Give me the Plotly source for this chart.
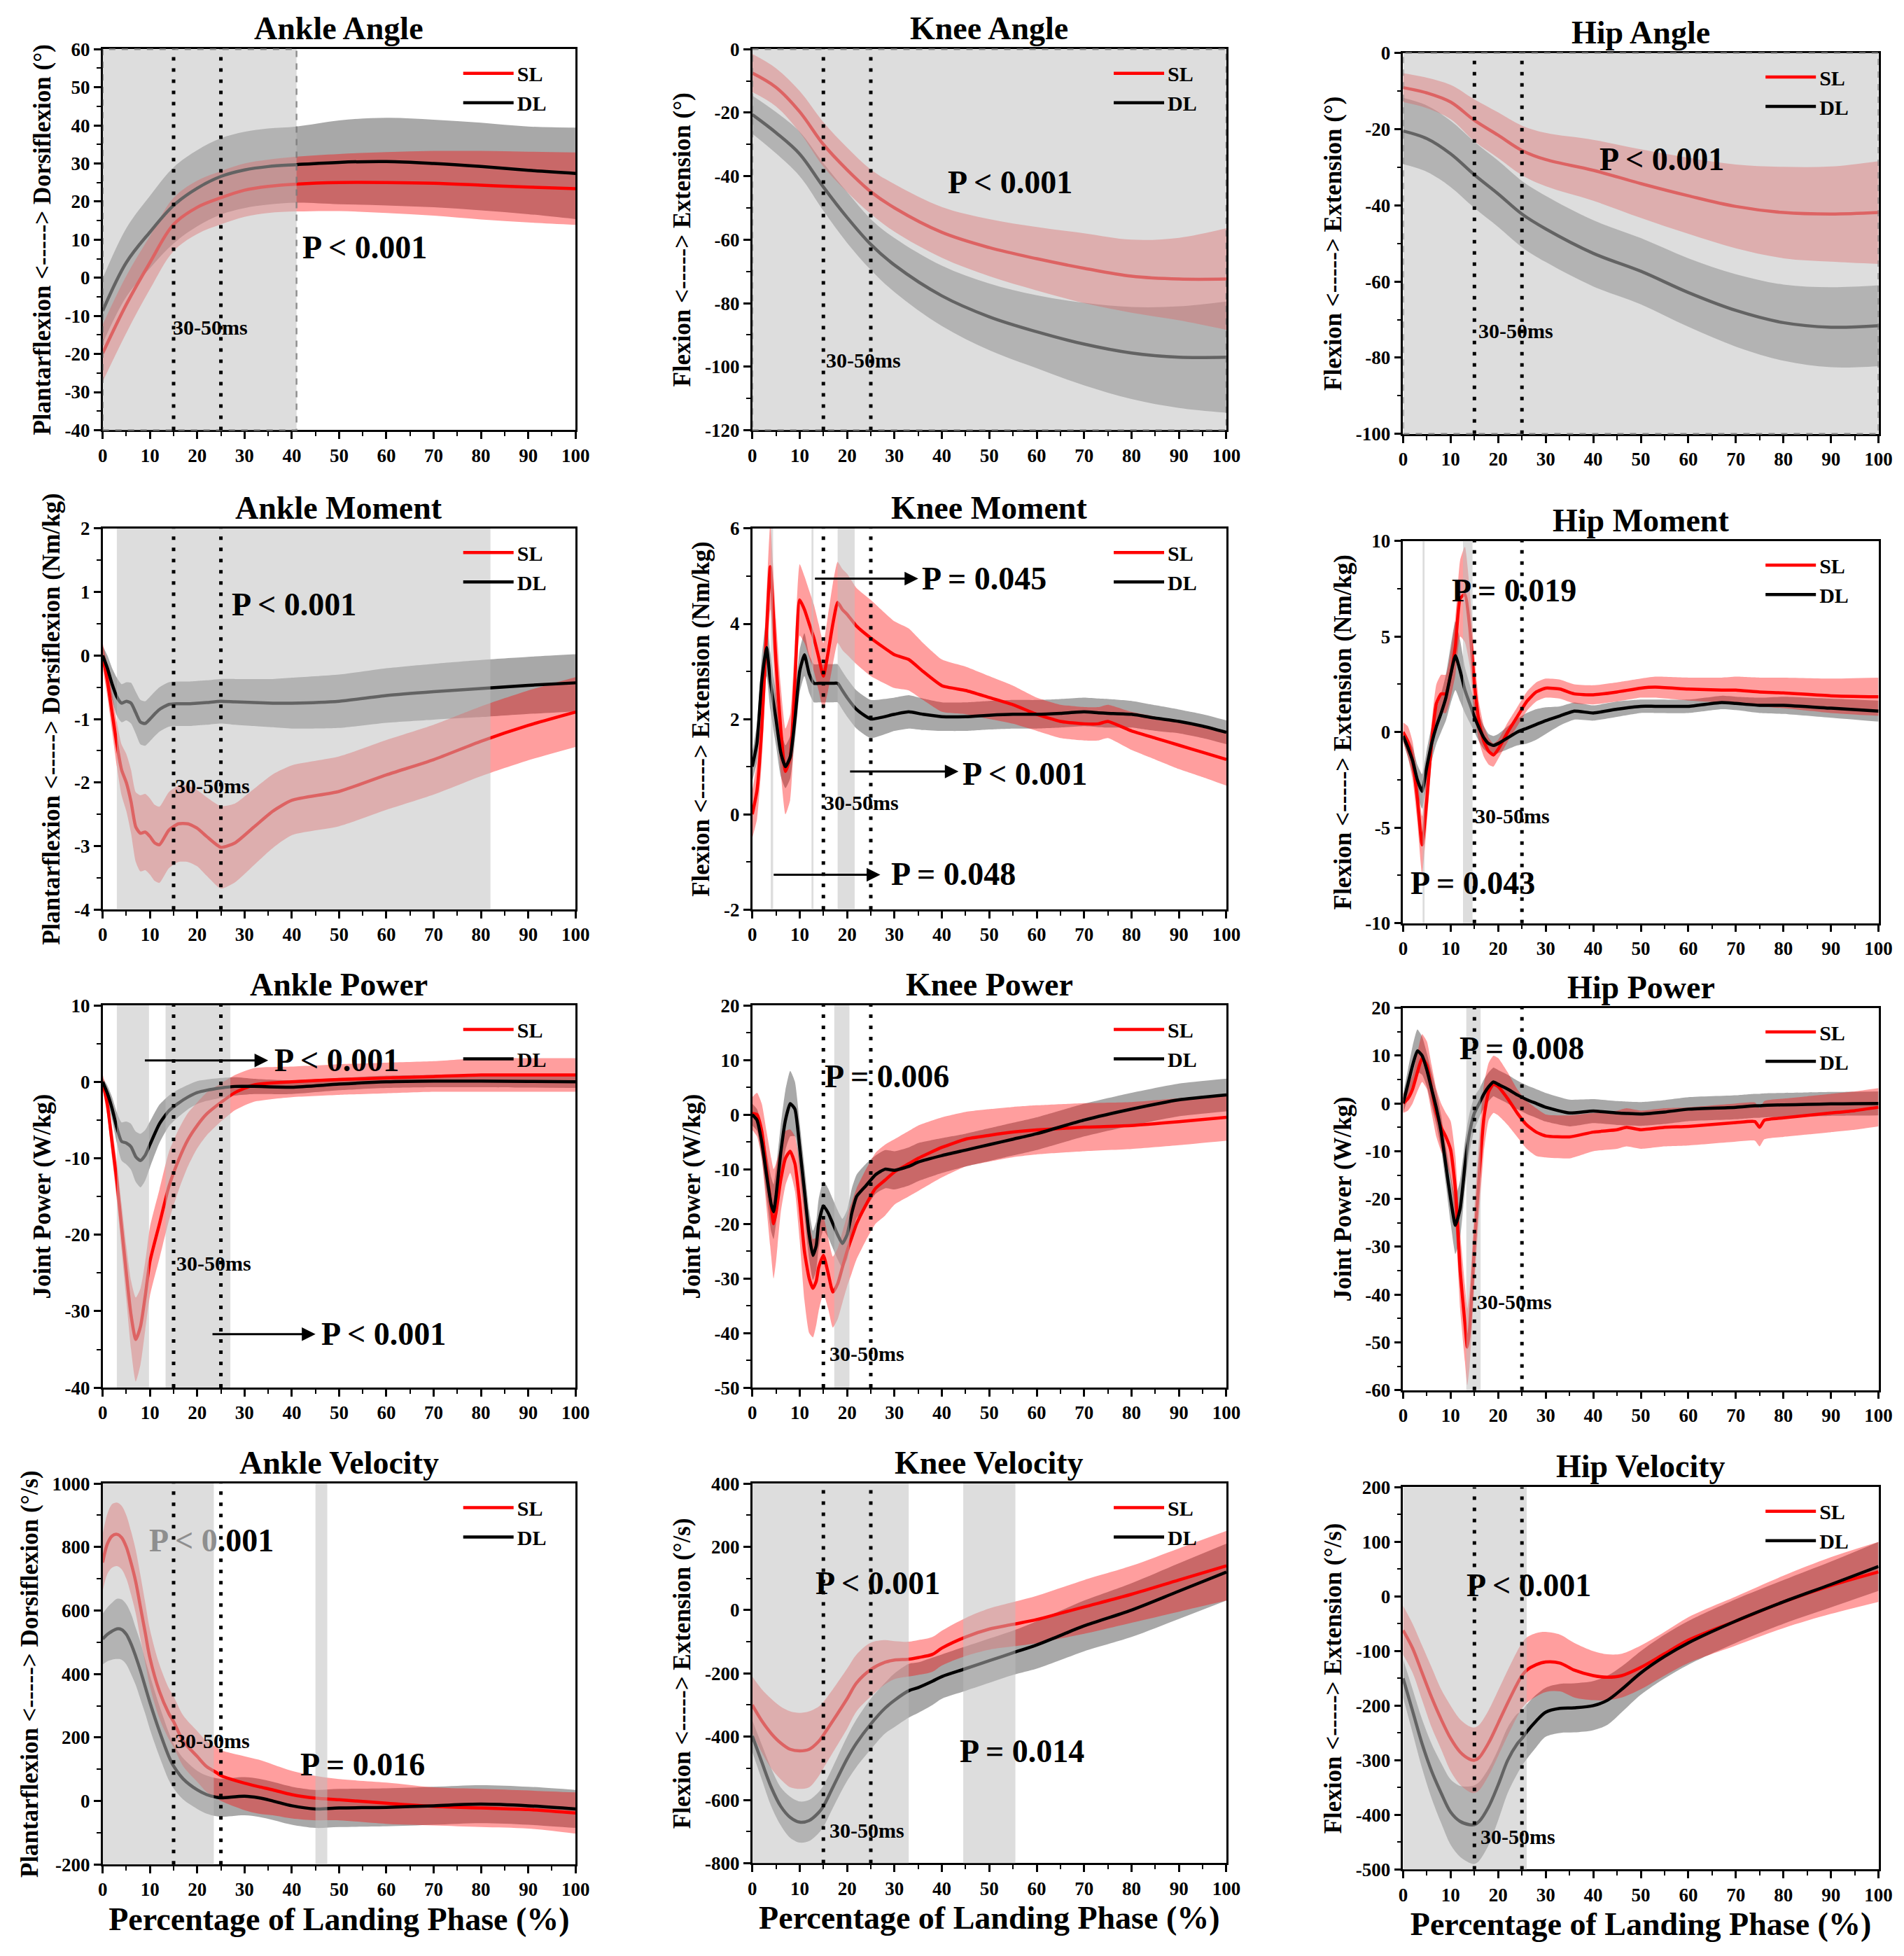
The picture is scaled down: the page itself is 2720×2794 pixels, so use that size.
import plotly.graph_objects as go

# ----------------------------------------------------------------- data
# Ankle angle (deg)
ANKLE_ANGLE_X = [0, 5, 10, 15, 20, 25, 30, 35, 41, 50, 60, 70, 80, 90, 100]
ANKLE_ANGLE_SL = [-19.8, -7, 4, 14, 18.5, 21, 23, 24, 24.6, 25, 25, 24.8, 24.3, 23.8, 23.4]
ANKLE_ANGLE_SL_SD = [7.5, 7.5, 7, 7, 7, 7, 7, 7, 7.2, 7.5, 8, 8.5, 9, 9.3, 9.5]
ANKLE_ANGLE_DL = [-8.7, 4, 12, 19, 23.5, 26.6, 28.3, 29.2, 29.7, 30.3, 30.5, 30, 29.2, 28.2, 27.4]
ANKLE_ANGLE_DL_SD = [8.5, 9, 9.5, 10, 10, 10, 10, 10, 10, 11, 11.5, 11.5, 11.5, 11.5, 12]

# Knee angle (deg)
KNEE_ANGLE_X = [0, 5, 10, 15, 20, 25, 30, 40, 50, 60, 70, 80, 90, 100]
KNEE_ANGLE_SL = [-7.5, -12, -19.7, -30, -38, -44.9, -50, -57.7, -62.5, -66, -69, -71.5, -72.4, -72.4]
KNEE_ANGLE_SL_SD = [6, 6, 6.5, 7, 7, 7, 7.5, 8, 9, 10, 11, 11.5, 13, 16]
KNEE_ANGLE_DL = [-20.6, -26.3, -33, -43.4, -53, -61.5, -68, -77.7, -84.3, -89, -92.9, -95.7, -97, -97]
KNEE_ANGLE_DL_SD = [6, 6.5, 7, 7.5, 8, 8, 8.5, 9.5, 10.5, 11.5, 13, 14.5, 16, 17.5]

# Hip angle (deg)
HIP_ANGLE_X = [0, 5, 10, 15, 20, 25, 30, 40, 50, 60, 70, 80, 90, 100]
HIP_ANGLE_SL = [-9.1, -10.5, -12.9, -17.7, -21.6, -25.6, -28, -30.8, -34.3, -37.5, -40.3, -41.9, -42.3, -41.9]
HIP_ANGLE_SL_SD = [3.8, 4, 4.5, 5.5, 6, 6.5, 7, 8, 9, 10, 11, 12, 12.5, 13.5]
HIP_ANGLE_DL = [-20.5, -22.5, -26.5, -32, -37, -42.3, -46.2, -52.6, -57.3, -62.9, -67.6, -70.8, -72, -71.6]
HIP_ANGLE_DL_SD = [8.7, 8.7, 8.7, 8.7, 8.7, 8.7, 8.7, 8.7, 8.7, 9, 9.5, 10, 10.5, 10.6]

# Ankle moment (Nm/kg)
ANKLE_MOMENT_X = [0, 1, 2, 3, 4, 5, 6, 7, 8, 9, 10, 11, 12, 14, 16, 18, 20, 22, 25, 28, 32, 36, 40, 50, 60, 70, 80, 90, 100]
ANKLE_MOMENT_SL = [0, -0.4, -0.9, -1.4, -1.8, -2.0, -2.3, -2.7, -2.8, -2.78, -2.85, -2.95, -2.98, -2.75, -2.65,
                   -2.65, -2.72, -2.85, -3.02, -2.95, -2.7, -2.45, -2.28, -2.14, -1.88, -1.64, -1.35, -1.1, -0.89]
ANKLE_MOMENT_SL_SD = [0.2, 0.25, 0.3, 0.35, 0.4, 0.45, 0.5, 0.55, 0.6, 0.6, 0.6, 0.6, 0.6, 0.6, 0.6,
                      0.6, 0.6, 0.62, 0.65, 0.62, 0.6, 0.58, 0.55, 0.55, 0.55, 0.55, 0.55, 0.55, 0.55]
ANKLE_MOMENT_DL = [0, -0.2, -0.45, -0.65, -0.75, -0.72, -0.75, -0.9, -1.05, -1.07, -1.0, -0.92, -0.85, -0.77, -0.76,
                   -0.76, -0.75, -0.74, -0.72, -0.73, -0.74, -0.75, -0.75, -0.72, -0.63, -0.57, -0.52, -0.47, -0.43]
ANKLE_MOMENT_DL_SD = [0.15, 0.2, 0.25, 0.3, 0.3, 0.3, 0.32, 0.33, 0.35, 0.35, 0.35, 0.35, 0.35, 0.35, 0.35,
                      0.35, 0.35, 0.35, 0.35, 0.36, 0.37, 0.38, 0.4, 0.42, 0.43, 0.44, 0.45, 0.45, 0.45]

# Knee moment (Nm/kg)
KNEE_MOMENT_X = [0, 1, 2, 3, 3.8, 5, 6, 7, 8, 9, 10, 11, 12, 13, 14, 15, 16, 17, 18, 19,
                 20, 22, 25, 30, 33, 36, 40, 45, 50, 55, 60, 65, 70, 73, 75, 80, 85, 90, 95, 100]
KNEE_MOMENT_SL = [0, 0.5, 1.8, 3.8, 5.2, 3.2, 1.8, 0.9, 1.2, 2.8, 4.5, 4.3, 4.0, 3.7, 3.3, 2.9, 3.4, 4.0, 4.45, 4.3,
                  4.2, 3.95, 3.7, 3.35, 3.25, 3.0, 2.7, 2.6, 2.45, 2.3, 2.1, 1.95, 1.9, 1.9, 1.95, 1.75, 1.6, 1.45, 1.3, 1.15]
KNEE_MOMENT_SL_SD = [0.5, 0.6, 0.7, 0.8, 0.9, 0.9, 0.9, 0.9, 0.9, 0.8, 0.75, 0.7, 0.7, 0.7, 0.7, 0.7, 0.8, 0.85, 0.85, 0.85,
                     0.85, 0.8, 0.8, 0.7, 0.65, 0.6, 0.55, 0.5, 0.45, 0.4, 0.35, 0.35, 0.35, 0.35, 0.35, 0.4, 0.45, 0.5, 0.52, 0.55]
KNEE_MOMENT_DL = [1.0, 1.5, 2.8, 3.5, 2.8, 2.0, 1.3, 1.0, 1.2, 2.0, 3.0, 3.35, 2.95, 2.75, 2.75, 2.75, 2.75, 2.75, 2.75, 2.6,
                  2.45, 2.2, 2.0, 2.1, 2.15, 2.1, 2.05, 2.05, 2.08, 2.1, 2.1, 2.12, 2.15, 2.13, 2.12, 2.1, 2.02, 1.95, 1.85, 1.72]
KNEE_MOMENT_DL_SD = [0.3, 0.4, 0.5, 0.6, 0.6, 0.55, 0.5, 0.45, 0.45, 0.45, 0.45, 0.45, 0.4, 0.4, 0.4, 0.4, 0.4, 0.4, 0.4, 0.4,
                     0.4, 0.4, 0.4, 0.35, 0.35, 0.33, 0.3, 0.3, 0.3, 0.3, 0.3, 0.3, 0.3, 0.3, 0.3, 0.28, 0.27, 0.25, 0.25, 0.25]

# Hip moment (Nm/kg)
HIP_MOMENT_X = [0, 1, 2, 3, 4, 5, 6, 7, 8, 9, 10, 11, 12, 13, 14, 15, 16, 17, 18, 19,
                20, 22, 24, 26, 28, 30, 33, 36, 40, 45, 50, 53, 60, 67, 70, 75, 80, 90, 100]
HIP_MOMENT_SL = [0, -0.5, -1.5, -3.5, -5.9, -3.5, -0.5, 1.5, 2.0, 2.0, 3.0, 4.5, 7.0, 7.2, 5.5, 2.5, 0.5, -0.5, -1.0, -1.2,
                 -0.9, 0.0, 0.8, 1.6, 2.1, 2.3, 2.25, 2.0, 1.95, 2.1, 2.3, 2.35, 2.25, 2.2, 2.2, 2.1, 2.05, 1.9, 1.85]
HIP_MOMENT_SL_SD = [0.5, 0.8, 1.0, 1.2, 1.5, 1.3, 1.0, 1.0, 1.0, 1.0, 1.2, 1.5, 2.0, 2.5, 2.0, 1.5, 1.0, 0.8, 0.7, 0.6,
                    0.5, 0.5, 0.5, 0.5, 0.5, 0.5, 0.5, 0.5, 0.5, 0.5, 0.5, 0.55, 0.6, 0.65, 0.7, 0.75, 0.8, 0.9, 1.0]
HIP_MOMENT_DL = [-0.2, -0.8, -1.5, -2.5, -3.1, -1.8, -0.6, 0.3, 1.0, 1.8, 3.0, 4.0, 3.2, 2.2, 1.5, 0.8, 0.2, -0.3, -0.6, -0.7,
                 -0.6, -0.3, 0.0, 0.2, 0.4, 0.6, 0.85, 1.1, 1.0, 1.2, 1.35, 1.35, 1.35, 1.55, 1.5, 1.4, 1.4, 1.25, 1.1]
HIP_MOMENT_DL_SD = [0.3, 0.5, 0.7, 0.8, 0.9, 0.9, 0.9, 0.9, 1.0, 1.2, 1.5, 1.8, 1.6, 1.2, 1.0, 0.8, 0.7, 0.6, 0.5, 0.5,
                    0.5, 0.6, 0.7, 0.8, 0.8, 0.7, 0.5, 0.45, 0.4, 0.4, 0.35, 0.35, 0.35, 0.35, 0.35, 0.4, 0.45, 0.5, 0.55]

# Ankle power (W/kg)
ANKLE_POWER_X = [0, 1, 2, 3, 4, 5, 6, 7, 8, 9, 10, 12, 14, 16, 18, 20, 22, 25, 28, 32, 40, 50, 60, 70, 80, 90, 100]
ANKLE_POWER_SL = [0, -3, -8, -13, -19, -25, -30.5, -33.7, -32, -28, -23.5, -18.6, -13.7, -10.3, -7.6, -5.7, -4.2,
                  -2.7, -1.4, -0.4, 0, 0.3, 0.5, 0.7, 0.9, 0.9, 0.9]
ANKLE_POWER_SL_SD = [1, 1.5, 2, 2.5, 3, 3.5, 4.5, 5.5, 5, 4.5, 4.5, 4.5, 4.5, 4, 3.5, 3, 2.8, 2.5, 2.3, 2.2,
                     2, 2, 2, 2, 2.2, 2.2, 2.2]
ANKLE_POWER_DL = [0, -1.5, -3.5, -6, -7.8, -8.0, -8.5, -9.8, -10.3, -9.6, -8.2, -5.5, -3.8, -2.8, -2.0, -1.4, -1.1,
                  -0.8, -0.6, -0.6, -0.7, -0.3, 0, 0.1, 0.1, 0.05, 0]
ANKLE_POWER_DL_SD = [0.5, 1.0, 1.5, 2.0, 2.5, 2.8, 3.0, 3.3, 3.5, 3.3, 3.0, 2.5, 2.0, 1.8, 1.6, 1.5, 1.4, 1.3, 1.2,
                     1.0, 0.9, 0.8, 0.8, 0.8, 0.8, 0.8, 0.8]

# Knee power (W/kg)
KNEE_POWER_X = [0, 1, 2, 3, 4, 4.5, 5, 6, 7, 8, 9, 10, 11, 12, 12.8, 13.5, 14, 15, 16, 17,
                18, 19, 20, 21, 22, 24, 26, 28, 30, 33, 35, 40, 45, 50, 55, 60, 70, 80, 90, 100]
KNEE_POWER_SL = [0.2, 0, -3, -10, -17, -20, -18, -12, -8, -6.7, -9, -16, -25, -30, -31.8, -30.5, -28, -25.8, -29, -32.5,
                 -31, -28, -25, -22.5, -20, -16.5, -13.5, -12, -10.5, -9, -8, -6, -4.5, -3.8, -3.2, -2.8, -2.3, -2.0, -1.3, -0.5]
KNEE_POWER_SL_SD = [3, 4, 5, 7, 9, 10, 9, 6, 5, 4, 5, 7, 9, 10, 9, 8, 8, 7, 6.5, 6.5,
                    6.5, 6.5, 6.5, 6.5, 6.5, 6.5, 6.5, 6.5, 6, 6, 6, 5.5, 5, 4.8, 4.6, 4.5, 4.4, 4.3, 4.3, 4.3]
KNEE_POWER_DL = [0, -1, -5, -11, -16.5, -17.8, -15, -7, -1, 2, 1, -6, -14, -22, -25.8, -24, -20, -16.7, -18, -20,
                 -22, -23.6, -22, -18, -15, -13, -11, -10, -10.2, -9.5, -8.7, -7.5, -6.5, -5.5, -4.5, -3.5, -1, 1, 2.7, 3.6]
KNEE_POWER_DL_SD = [2, 2, 3, 4, 5, 5, 5, 5, 5.5, 6, 5, 4.5, 4.5, 4.5, 4.5, 4.5, 4.5, 4.5, 4.5, 4.5,
                    4.5, 4.5, 4.5, 4.5, 4, 4, 3.5, 3.5, 3.5, 3.5, 3.5, 3.2, 3, 3, 3, 3, 3, 3, 3, 3]

# Hip power (W/kg)
HIP_POWER_X = [0, 1, 2, 3, 4, 5, 6, 7, 8, 9, 10, 11, 12, 13, 13.5, 14, 15, 16, 17, 18,
               19, 20, 22, 24, 26, 28, 30, 35, 40, 45, 47, 50, 55, 60, 70, 74, 75, 76, 80, 85, 90, 95, 100]
HIP_POWER_SL = [0, 1, 3, 6.5, 9.5, 8, 3, -2, -5, -7, -9.7, -18, -35, -46, -51, -47, -30, -15, -3, 2.5,
                4, 3.5, 1, -2, -4.5, -6, -6.8, -7, -6, -5.5, -5, -5.5, -5, -4.8, -4, -3.8, -5, -3.5, -3, -2.5, -2, -1.5, -0.8]
HIP_POWER_SL_SD = [2, 2.5, 3, 4, 5, 5, 5, 5, 5, 5, 6, 7, 8, 8, 8, 8, 8, 8, 7, 6,
                   6, 6, 5.5, 5, 5, 5, 4.5, 4.5, 4, 4, 4, 4, 4, 4, 4, 4, 4, 4, 4, 4, 4, 4, 4]
HIP_POWER_DL = [0, 4, 8, 11, 10, 7, 3, -1, -6, -13, -20, -25.5, -22, -13, -9, -6, -2, 0, 2, 3.5,
                4.5, 4, 3, 1.8, 0.8, 0, -0.8, -2, -1.6, -2, -2.1, -2.2, -1.8, -1.2, -0.8, -0.5, -0.5, -0.4, -0.3, -0.2, -0.1, -0.05, 0]
HIP_POWER_DL_SD = [2, 3, 4, 4.5, 4, 3.5, 3.5, 3.5, 3.5, 4, 5, 6, 6, 5, 4.5, 4, 3.5, 3, 3, 3,
                   3, 3, 3, 3, 3, 3, 3, 2.8, 2.5, 2.5, 2.5, 2.5, 2.5, 2.5, 2.5, 2.5, 2.5, 2.5, 2.5, 2.5, 2.5, 2.5, 2.5]

# Ankle velocity (deg/s)
ANKLE_VEL_X = [0, 1, 2, 3, 4, 5, 6, 7, 8, 9, 10, 12, 14, 15, 17, 20, 22, 24, 25, 30, 33, 36, 40, 45, 50, 60, 70, 80, 90, 100]
ANKLE_VEL_SL = [751, 810, 835, 840, 830, 800, 750, 690, 610, 530, 450, 345, 275, 250, 190, 140, 108, 90, 80, 56,
                45, 35, 20, 9, 4, -7, -17, -22, -27, -38]
ANKLE_VEL_SL_SD = [90, 95, 100, 100, 100, 100, 100, 100, 100, 95, 90, 85, 80, 80, 80, 80, 80, 80, 80, 85,
                   85, 80, 75, 70, 65, 65, 60, 60, 60, 65]
ANKLE_VEL_DL = [510, 525, 535, 542, 540, 525, 495, 455, 410, 360, 310, 220, 140, 110, 70, 35, 20, 12, 10, 15,
                10, 0, -15, -25, -22, -20, -15, -10, -15, -25]
ANKLE_VEL_DL_SD = [80, 85, 90, 95, 95, 95, 95, 90, 90, 85, 85, 80, 75, 70, 65, 60, 60, 60, 60, 60,
                   60, 60, 60, 60, 60, 60, 60, 60, 60, 60]

# Knee velocity (deg/s)
KNEE_VEL_X = [0, 2, 4, 6, 8, 10, 12, 14, 15, 17, 20, 22, 25, 28, 30, 33, 35, 38, 40, 45, 50, 55, 60, 65, 70, 80, 90, 100]
KNEE_VEL_SL = [-300, -350, -390, -420, -440, -445, -440, -415, -395, -350, -280, -230, -188, -165, -158, -155, -150,
               -140, -120, -85, -60, -45, -30, -10, 10, 50, 95, 140]
KNEE_VEL_SL_SD = [90, 100, 110, 115, 120, 120, 120, 110, 105, 100, 95, 90, 85, 70, 60, 55, 55, 55, 55, 60,
                  65, 70, 75, 80, 85, 90, 100, 110]
KNEE_VEL_DL = [-398, -480, -560, -620, -655, -670, -665, -640, -620, -560, -470, -420, -360, -310, -285, -255, -245,
               -225, -210, -185, -160, -135, -110, -80, -50, 0, 60, 120]
KNEE_VEL_DL_SD = [50, 55, 60, 60, 65, 65, 65, 65, 65, 65, 70, 75, 80, 80, 85, 85, 80, 75, 70, 70,
                  70, 70, 75, 78, 80, 85, 88, 90]

# Hip velocity (deg/s)
HIP_VEL_X = [0, 2, 4, 6, 8, 10, 12, 14, 15, 16, 18, 20, 22, 24, 25, 26, 28, 30, 33, 36, 40, 43, 46, 50, 55, 60, 70, 80, 90, 100]
HIP_VEL_SL = [-62, -95, -140, -185, -225, -260, -285, -298, -300, -295, -268, -232, -195, -160, -145, -135, -125,
              -120, -122, -135, -145, -148, -145, -130, -105, -80, -45, -10, 20, 45]
HIP_VEL_SL_SD = [45, 45, 50, 55, 55, 60, 60, 60, 60, 60, 60, 60, 60, 60, 60, 60, 58, 55, 52, 50,
                 45, 42, 40, 40, 40, 42, 45, 48, 52, 55]
HIP_VEL_DL = [-150, -210, -270, -320, -360, -395, -412, -418, -418, -412, -385, -345, -300, -270, -260, -248, -228,
              -212, -205, -204, -200, -190, -170, -140, -110, -85, -45, -10, 22, 55]
HIP_VEL_DL_SD = [35, 40, 45, 50, 55, 60, 65, 70, 72, 72, 70, 65, 60, 55, 50, 50, 48, 45, 45, 45,
                 45, 45, 42, 40, 40, 40, 40, 40, 42, 45]

# significant regions (% of landing phase) and 30-50 ms window
SIG_ANKLE_ANGLE = [(0, 41)]
SIG_KNEE_ANGLE = [(0, 100)]
SIG_HIP_ANGLE = [(0, 100)]
SIG_ANKLE_MOMENT = [(3, 82)]
SIG_KNEE_MOMENT = [(3.9, 4.4), (12.5, 12.9), (18, 21.6)]
SIG_HIP_MOMENT = [(4.1, 4.5), (12.6, 14.6)]
SIG_ANKLE_POWER = [(3, 9.8), (13.3, 27)]
SIG_KNEE_POWER = [(17.3, 20.5)]
SIG_HIP_POWER = [(13.3, 16.3)]
SIG_ANKLE_VEL = [(0, 23.5), (45, 47.5)]
SIG_KNEE_VEL = [(0, 33), (44.5, 55.5)]
SIG_HIP_VEL = [(0, 26)]
WINDOW_30_50MS = [15, 25]

ARROW = "&lt;-----&gt;"
PANELS = [
    dict(title="Ankle Angle", ytitle=f"Plantarflexion {ARROW} Dorsiflexion (°)", yr=[-40, 60], dt=10,
         x=ANKLE_ANGLE_X, sl=ANKLE_ANGLE_SL, slsd=ANKLE_ANGLE_SL_SD, dl=ANKLE_ANGLE_DL, dlsd=ANKLE_ANGLE_DL_SD,
         sig=SIG_ANKLE_ANGLE, dashed=True, smooth=1.0),
    dict(title="Knee Angle", ytitle=f"Flexion {ARROW} Extension (°)", yr=[-120, 0], dt=20,
         x=KNEE_ANGLE_X, sl=KNEE_ANGLE_SL, slsd=KNEE_ANGLE_SL_SD, dl=KNEE_ANGLE_DL, dlsd=KNEE_ANGLE_DL_SD,
         sig=SIG_KNEE_ANGLE, dashed=True, smooth=1.0),
    dict(title="Hip Angle", ytitle=f"Flexion {ARROW} Extension (°)", yr=[-100, 0], dt=20,
         x=HIP_ANGLE_X, sl=HIP_ANGLE_SL, slsd=HIP_ANGLE_SL_SD, dl=HIP_ANGLE_DL, dlsd=HIP_ANGLE_DL_SD,
         sig=SIG_HIP_ANGLE, dashed=True, smooth=1.0),
    dict(title="Ankle Moment", ytitle=f"Plantarflexion {ARROW} Dorsiflexion (Nm/kg)", yr=[-4, 2], dt=1,
         x=ANKLE_MOMENT_X, sl=ANKLE_MOMENT_SL, slsd=ANKLE_MOMENT_SL_SD, dl=ANKLE_MOMENT_DL, dlsd=ANKLE_MOMENT_DL_SD,
         sig=SIG_ANKLE_MOMENT, dashed=False, smooth=0.6),
    dict(title="Knee Moment", ytitle=f"Flexion {ARROW} Extension (Nm/kg)", yr=[-2, 6], dt=2,
         x=KNEE_MOMENT_X, sl=KNEE_MOMENT_SL, slsd=KNEE_MOMENT_SL_SD, dl=KNEE_MOMENT_DL, dlsd=KNEE_MOMENT_DL_SD,
         sig=SIG_KNEE_MOMENT, dashed=False, smooth=0.5),
    dict(title="Hip Moment", ytitle=f"Flexion {ARROW} Extension (Nm/kg)", yr=[-10, 10], dt=5,
         x=HIP_MOMENT_X, sl=HIP_MOMENT_SL, slsd=HIP_MOMENT_SL_SD, dl=HIP_MOMENT_DL, dlsd=HIP_MOMENT_DL_SD,
         sig=SIG_HIP_MOMENT, dashed=False, smooth=0.5),
    dict(title="Ankle Power", ytitle="Joint Power (W/kg)", yr=[-40, 10], dt=10,
         x=ANKLE_POWER_X, sl=ANKLE_POWER_SL, slsd=ANKLE_POWER_SL_SD, dl=ANKLE_POWER_DL, dlsd=ANKLE_POWER_DL_SD,
         sig=SIG_ANKLE_POWER, dashed=False, smooth=0.6),
    dict(title="Knee Power", ytitle="Joint Power (W/kg)", yr=[-50, 20], dt=10,
         x=KNEE_POWER_X, sl=KNEE_POWER_SL, slsd=KNEE_POWER_SL_SD, dl=KNEE_POWER_DL, dlsd=KNEE_POWER_DL_SD,
         sig=SIG_KNEE_POWER, dashed=False, smooth=0.5),
    dict(title="Hip Power", ytitle="Joint Power (W/kg)", yr=[-60, 20], dt=10,
         x=HIP_POWER_X, sl=HIP_POWER_SL, slsd=HIP_POWER_SL_SD, dl=HIP_POWER_DL, dlsd=HIP_POWER_DL_SD,
         sig=SIG_HIP_POWER, dashed=False, smooth=0.5),
    dict(title="Ankle Velocity", ytitle=f"Plantarflexion {ARROW} Dorsiflexion (°/s)", yr=[-200, 1000], dt=200,
         x=ANKLE_VEL_X, sl=ANKLE_VEL_SL, slsd=ANKLE_VEL_SL_SD, dl=ANKLE_VEL_DL, dlsd=ANKLE_VEL_DL_SD,
         sig=SIG_ANKLE_VEL, dashed=False, smooth=0.9),
    dict(title="Knee Velocity", ytitle=f"Flexion {ARROW} Extension (°/s)", yr=[-800, 400], dt=200,
         x=KNEE_VEL_X, sl=KNEE_VEL_SL, slsd=KNEE_VEL_SL_SD, dl=KNEE_VEL_DL, dlsd=KNEE_VEL_DL_SD,
         sig=SIG_KNEE_VEL, dashed=False, smooth=0.9),
    dict(title="Hip Velocity", ytitle=f"Flexion {ARROW} Extension (°/s)", yr=[-500, 200], dt=100,
         x=HIP_VEL_X, sl=HIP_VEL_SL, slsd=HIP_VEL_SL_SD, dl=HIP_VEL_DL, dlsd=HIP_VEL_DL_SD,
         sig=SIG_HIP_VEL, dashed=False, smooth=0.9),
]

# text labels per panel: (text, x, y, size)
P_BIG = 46
P_SMALL = 30
LABELS = [
    [("P &lt; 0.001", 42, 8, P_BIG), ("30-50ms", 14.5, -13, P_SMALL)],
    [("P &lt; 0.001", 41, -42, P_BIG), ("30-50ms", 15.3, -98, P_SMALL)],
    [("P &lt; 0.001", 41, -28, P_BIG), ("30-50ms", 15.5, -73, P_SMALL)],
    [("P &lt; 0.001", 27, 0.8, P_BIG), ("30-50ms", 15, -2.05, P_SMALL)],
    [("P = 0.045", 35.5, 4.95, P_BIG), ("P &lt; 0.001", 44, 0.85, P_BIG), ("P = 0.048", 29, -1.25, P_BIG),
     ("30-50ms", 14.8, 0.25, P_SMALL)],
    [("P = 0.019", 10, 7.4, P_BIG), ("P = 0.043", 1.2, -7.9, P_BIG), ("30-50ms", 14.8, -4.4, P_SMALL)],
    [("P &lt; 0.001", 36, 2.8, P_BIG), ("P &lt; 0.001", 46, -33, P_BIG), ("30-50ms", 15.3, -23.7, P_SMALL)],
    [("P = 0.006", 15, 7, P_BIG), ("30-50ms", 16, -43.8, P_SMALL)],
    [("P = 0.008", 11.5, 11.5, P_BIG), ("30-50ms", 15.3, -41.5, P_SMALL)],
    [("<span style='color:#8e8e8e'>P &lt; 0</span>.001", 9.5, 820, P_BIG), ("P = 0.016", 41.5, 115, P_BIG),
     ("30-50ms", 15, 190, P_SMALL)],
    [("P &lt; 0.001", 13, 85, P_BIG), ("P = 0.014", 43.5, -445, P_BIG), ("30-50ms", 16, -695, P_SMALL)],
    [("P &lt; 0.001", 13, 20, P_BIG), ("30-50ms", 16, -440, P_SMALL)],
]
# arrows per panel: (x_tail, x_head, y)
ARROWS = {4: [(13, 35, 4.95), (20.4, 43.5, 0.9), (4.3, 27, -1.27)],
          6: [(8.7, 35, 2.8), (23, 45, -33)]}

# ----------------------------------------------------------------- layout geometry
W, H = 2720, 2794
RW, RH = 1530.0, 1571.0  # reference measured at this scale
COLS = [(78, 458), (600, 981), (1123, 1505)]
ROWS = [[(35, 341), (35, 341), (38, 344)],
        [(420, 726), (420, 726), (430, 737)],
        [(803, 1110), (803, 1110), (805, 1112)],
        [(1187, 1493), (1187, 1492), (1190, 1497)]]
FONT = "Liberation Serif"
SL_COLOR, DL_COLOR = "#ff0000", "#000000"
SL_FILL, DL_FILL = "rgba(255,0,0,0.38)", "rgba(0,0,0,0.34)"
SHADE = "rgba(190,190,190,0.52)"

fig = go.Figure()
layout = dict(width=W, height=H, margin=dict(l=0, r=0, t=0, b=0), template="none",
              paper_bgcolor="white", plot_bgcolor="white", showlegend=True,
              font=dict(family=FONT, color="black"))
shapes, annotations = [], []


def fmt(v):
    return f"{v:g}"


for i, p in enumerate(PANELS, start=1):
    r, c = divmod(i - 1, 3)
    cx0, cx1 = COLS[c]
    ry0, ry1 = ROWS[r][c]
    dx = [cx0 / RW, cx1 / RW]
    dy = [1 - ry1 / RH, 1 - ry0 / RH]
    xa = "x" if i == 1 else f"x{i}"
    ya = "y" if i == 1 else f"y{i}"
    lg = "legend" if i == 1 else f"legend{i}"
    n = len(p["x"])
    assert all(len(p[k]) == n for k in ("sl", "slsd", "dl", "dlsd")), p["title"]

    # SD bands
    for m, sd, fc in ((p["dl"], p["dlsd"], DL_FILL), (p["sl"], p["slsd"], SL_FILL)):
        lo = [a - b for a, b in zip(m, sd)]
        hi = [a + b for a, b in zip(m, sd)]
        fig.add_trace(go.Scatter(x=p["x"], y=lo, mode="lines", xaxis=xa, yaxis=ya, showlegend=False,
                                 legend=lg, hoverinfo="skip",
                                 line=dict(width=0, shape="spline", smoothing=p["smooth"])))
        fig.add_trace(go.Scatter(x=p["x"], y=hi, mode="lines", xaxis=xa, yaxis=ya, showlegend=False,
                                 legend=lg, hoverinfo="skip", fill="tonexty", fillcolor=fc,
                                 line=dict(width=0, shape="spline", smoothing=p["smooth"])))
    # mean lines
    for name, m, col in (("SL", p["sl"], SL_COLOR), ("DL", p["dl"], DL_COLOR)):
        fig.add_trace(go.Scatter(x=p["x"], y=m, mode="lines", name=name, xaxis=xa, yaxis=ya, legend=lg,
                                 line=dict(color=col, width=4.5, shape="spline", smoothing=p["smooth"])))

    # significance shading (drawn above the data, as in the reference)
    for (s0, s1) in p["sig"]:
        shapes.append(dict(type="rect", xref=xa, yref=f"{ya} domain", x0=s0, x1=s1, y0=0, y1=1,
                           fillcolor=SHADE, layer="above",
                           line=dict(width=2.5 if p["dashed"] else 0, color="rgba(120,120,120,0.8)", dash="dash")))
    for wx in WINDOW_30_50MS:
        shapes.append(dict(type="line", xref=xa, yref=f"{ya} domain", x0=wx, x1=wx, y0=0, y1=1, layer="above",
                           line=dict(color="black", width=5, dash="5px,11px")))

    # axes
    y0r, y1r = p["yr"]
    yt = []
    v = y0r
    while v <= y1r + 1e-9:
        yt.append(v)
        v += p["dt"]
    ax_common = dict(showline=True, linecolor="black", linewidth=2.5, mirror=True, ticks="outside",
                     ticklen=10, tickwidth=2.5, tickcolor="black", showgrid=False, zeroline=False,
                     tickfont=dict(family=FONT, size=27, color="black", weight="bold"))
    xkey = "xaxis" if i == 1 else f"xaxis{i}"
    ykey = "yaxis" if i == 1 else f"yaxis{i}"
    xaxis = dict(domain=dx, anchor=ya, range=[0, 100], tickvals=list(range(0, 101, 10)),
                 ticktext=[str(t) for t in range(0, 101, 10)],
                 minor=dict(tickvals=list(range(5, 100, 10)), ticks="outside", ticklen=6, tickwidth=2,
                            tickcolor="black"), **ax_common)
    if r == 3:
        xaxis["title"] = dict(text="Percentage of Landing Phase (%)", standoff=12,
                              font=dict(family=FONT, size=46, color="black", weight="bold"))
    yaxis = dict(domain=dy, anchor=xa, range=[y0r, y1r], tickvals=yt, ticktext=[fmt(t) for t in yt],
                 minor=dict(tickvals=[t + p["dt"] / 2 for t in yt[:-1]], ticks="outside", ticklen=6,
                            tickwidth=2, tickcolor="black"),
                 title=dict(text=p["ytitle"], standoff=10,
                            font=dict(family=FONT, size=35, color="black", weight="bold")),
                 **ax_common)
    layout[xkey] = xaxis
    layout[ykey] = yaxis

    # legend
    layout[lg] = dict(x=dx[0] + 0.755 * (dx[1] - dx[0]), y=dy[1] - 0.003, xanchor="left", yanchor="top",
                      bgcolor="rgba(0,0,0,0)", itemwidth=72, tracegroupgap=0, traceorder="normal",
                      font=dict(family=FONT, size=30, color="black", weight="bold"))

    # subplot title
    annotations.append(dict(text=p["title"], xref="paper", yref="paper", x=(dx[0] + dx[1]) / 2, y=dy[1],
                            yshift=2, xanchor="center", yanchor="bottom", showarrow=False,
                            font=dict(family=FONT, size=46, color="black", weight="bold")))
    for (txt, tx, ty, sz) in LABELS[i - 1]:
        annotations.append(dict(text=txt, xref=xa, yref=ya, x=tx, y=ty, xanchor="left", yanchor="middle",
                                showarrow=False, font=dict(family=FONT, size=sz, color="black", weight="bold")))
    for (xt, xh, yv) in ARROWS.get(i - 1, []):
        annotations.append(dict(text="", xref=xa, yref=ya, x=xh, y=yv, axref=xa, ayref=ya, ax=xt, ay=yv,
                                showarrow=True, arrowhead=2, arrowsize=1.3, arrowwidth=3, arrowcolor="black"))

layout["shapes"] = shapes
layout["annotations"] = annotations
fig.update_layout(**layout)
fig.write_html("out.html")
